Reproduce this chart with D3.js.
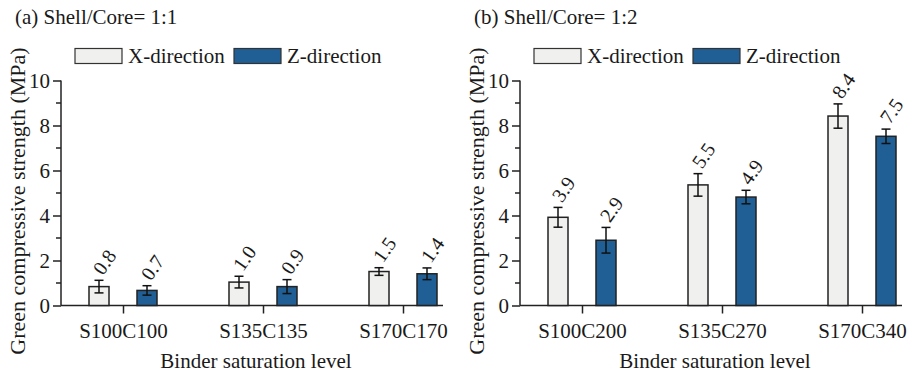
<!DOCTYPE html>
<html>
<head>
<meta charset="utf-8">
<script src="https://cdn.jsdelivr.net/npm/d3@7"></script>
<style>
  body { margin: 0; background: #fff; }
</style>
</head>
<body>
<div id="chart"></div>
<script>
// categories
const catsA = ["S100C100", "S135C135", "S170C170"];
const catsB = ["S100C200", "S135C270", "S170C340"];

// series values (MPa) and error (+/-)
const xDirA = [0.84, 1.04, 1.51];
const xErrA = [0.28, 0.26, 0.17];
const zDirA = [0.67, 0.84, 1.41];
const zErrA = [0.21, 0.31, 0.26];

const xDirB = [3.92, 5.36, 8.42];
const xErrB = [0.44, 0.50, 0.54];
const zDirB = [2.90, 4.82, 7.52];
const zErrB = [0.57, 0.30, 0.32];

// printed value labels
const xLabA = ["0.8", "1.0", "1.5"];
const zLabA = ["0.7", "0.9", "1.4"];
const xLabB = ["3.9", "5.5", "8.4"];
const zLabB = ["2.9", "4.9", "7.5"];

const yTicks = [0, 2, 4, 6, 8, 10];
const yMinor = [1, 3, 5, 7, 9];

const titles = ["(a) Shell/Core= 1:1", "(b) Shell/Core= 1:2"];
const series = ["X-direction", "Z-direction"];
const colors = ["#f0f0ee", "#1f5f95"];

const FONT = "Liberation Serif";
const INK = "#1a1a1a";

const W = 917, H = 375;
const svg = d3.select("#chart").append("svg")
  .attr("width", W).attr("height", H)
  .attr("font-family", FONT);

function label(sel, size) {
  return sel.attr("font-family", FONT).attr("font-size", size).attr("fill", INK);
}

function drawPanel(ox, title, cats, xv, xe, zv, ze, xl, zl) {
  const g = svg.append("g").attr("transform", "translate(" + ox + ",0)");
  const left = 61, right = 443, top = 80.5, bottom = 305.5;

  const y = d3.scaleLinear().domain([0, 10]).range([bottom, top]);
  const x = d3.scalePoint().domain(cats).range([left + 62, left + 342]);
  const off = 24, bw = 20;

  // title
  label(g.append("text").attr("x", 15).attr("y", 24), 21).text(title);

  // legend
  const legX = [75, 234];
  series.forEach((s, i) => {
    g.append("rect").attr("x", legX[i]).attr("y", 48.5)
      .attr("width", 47).attr("height", 15)
      .attr("fill", colors[i]).attr("stroke", "#333").attr("stroke-width", 1.2);
    label(g.append("text").attr("x", legX[i] + 53).attr("y", 63), 21).text(s);
  });

  // y axis
  const ya = g.append("g").attr("transform", "translate(" + left + ",0)")
    .call(d3.axisLeft(y).tickValues(yTicks).tickSize(8).tickPadding(3).tickFormat(d3.format("d")));
  ya.attr("font-family", FONT).attr("font-size", 21);
  label(ya.selectAll("text"), 21);
  ya.selectAll("line").attr("stroke", "#222").attr("stroke-width", 1.5);
  ya.select(".domain").attr("stroke", "#222").attr("stroke-width", 1.5).attr("d", "M0," + top + "V" + bottom);
  ya.selectAll(".minor").data(yMinor).enter().append("line")
    .attr("x1", -5).attr("x2", 0)
    .attr("y1", d => y(d)).attr("y2", d => y(d))
    .attr("stroke", "#222").attr("stroke-width", 1.5);

  // x axis
  const xa = g.append("g").attr("transform", "translate(0," + bottom + ")")
    .call(d3.axisBottom(x).tickSize(8).tickPadding(10));
  xa.attr("font-family", FONT).attr("font-size", 21);
  xa.select(".domain").attr("d", "M" + left + ",0H" + right)
    .attr("stroke", "#222").attr("stroke-width", 1.5);
  xa.selectAll("line").attr("stroke", "#222").attr("stroke-width", 1.5);
  label(xa.selectAll("text"), 21);

  // axis titles
  label(g.append("text")
    .attr("transform", "translate(25," + 201 + ") rotate(-90)")
    .attr("text-anchor", "middle"), 22)
    .text("Green compressive strength (MPa)");
  label(g.append("text").attr("x", 256).attr("y", 368)
    .attr("text-anchor", "middle"), 21)
    .text("Binder saturation level");

  const groups = [
    { v: xv, e: xe, l: xl, dx: -off, c: colors[0] },
    { v: zv, e: ze, l: zl, dx: off, c: colors[1] }
  ];
  groups.forEach(s => {
    const data = cats.map((c, i) => ({ c: c, v: s.v[i], e: s.e[i], l: s.l[i] }));
    const node = g.append("g").selectAll("g").data(data).enter().append("g")
      .attr("transform", d => "translate(" + (x(d.c) + s.dx) + ",0)");

    node.append("rect")
      .attr("x", -bw / 2).attr("width", bw)
      .attr("y", d => y(d.v)).attr("height", d => bottom - y(d.v))
      .attr("fill", s.c).attr("stroke", "#222").attr("stroke-width", 1.5);

    // error bars
    node.append("line")
      .attr("x1", 0).attr("x2", 0)
      .attr("y1", d => y(d.v + d.e)).attr("y2", d => y(d.v - d.e))
      .attr("stroke", "#111").attr("stroke-width", 1.5);
    [1, -1].forEach(k => {
      node.append("line")
        .attr("x1", -4.5).attr("x2", 4.5)
        .attr("y1", d => y(d.v + k * d.e)).attr("y2", d => y(d.v + k * d.e))
        .attr("stroke", "#111").attr("stroke-width", 1.5);
    });

    label(node.append("text")
      .attr("transform", d => "translate(4," + (y(d.v + d.e) - 4) + ") rotate(-55)"), 20)
      .text(d => d.l);
  });
}

drawPanel(0, titles[0], catsA, xDirA, xErrA, zDirA, zErrA, xLabA, zLabA);
drawPanel(459, titles[1], catsB, xDirB, xErrB, zDirB, zErrB, xLabB, zLabB);
</script>
</body>
</html>
